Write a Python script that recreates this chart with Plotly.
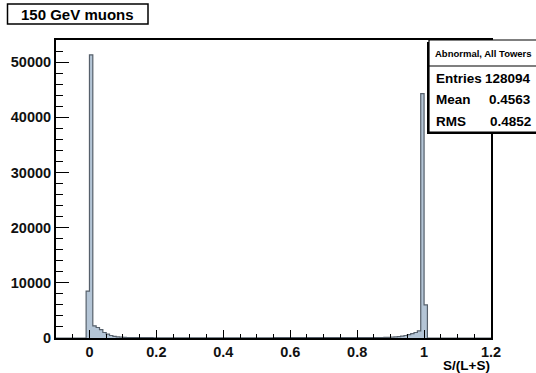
import plotly.graph_objects as go

# ---- data ----
bin_width = 0.01
x_low = -0.10
counts = [
    # -0.10 .. -0.01
    0, 0, 0, 0, 0, 0, 0, 0, 0, 8500,
    # 0.00 .. 0.09
    51300, 2200, 1900, 1500, 1000, 700, 450, 300, 200, 150,
    # 0.10 .. 0.19
    120, 90, 75, 65, 60, 55, 52, 50, 50, 48,
    # 0.20 .. 0.29
    48, 47, 47, 46, 46, 46, 45, 45, 45, 45,
    # 0.30 .. 0.39
    45, 45, 45, 45, 45, 46, 46, 46, 46, 46,
    # 0.40 .. 0.49
    46, 47, 47, 47, 47, 47, 48, 48, 48, 48,
    # 0.50 .. 0.59
    48, 49, 49, 49, 49, 50, 50, 50, 50, 51,
    # 0.60 .. 0.69
    51, 51, 52, 52, 52, 53, 53, 54, 54, 55,
    # 0.70 .. 0.79
    55, 56, 57, 58, 59, 60, 61, 62, 64, 66,
    # 0.80 .. 0.89
    68, 70, 72, 75, 78, 80, 85, 90, 100, 120,
    # 0.90 .. 0.99
    150, 190, 250, 330, 450, 600, 800, 1000, 1300, 44300,
    # 1.00 .. 1.09
    6000, 0, 0, 0, 0, 0, 0, 0, 0, 0,
    # 1.10 .. 1.19
    0, 0, 0, 0, 0, 0, 0, 0, 0, 0,
]
x_tickvals = [0, 0.2, 0.4, 0.6, 0.8, 1.0, 1.2]
x_ticktext = ["0", "0.2", "0.4", "0.6", "0.8", "1", "1.2"]
y_tickvals = [0, 10000, 20000, 30000, 40000, 50000]
y_ticktext = ["0", "10000", "20000", "30000", "40000", "50000"]

title_text = "150 GeV muons"
stats_title = "Abnormal, All Towers"
stats_rows = [("Entries", "128094"), ("Mean", "0.4563"), ("RMS", "0.4852")]
x_title = "S/(L+S)"

# ---- geometry ----
W, H = 536, 373
L, R, T, B = 56, 491, 40, 338

def px(xp):
    return (xp - L) / (R - L)

def py(yp):
    return (B - yp) / (B - T)

edges = [round(x_low + i * bin_width, 4) for i in range(len(counts) + 1)]
ys = counts + [counts[-1]]

FONT = "Liberation Sans"

fig = go.Figure()
fig.add_trace(go.Scatter(
    x=edges, y=ys, mode="lines", line_shape="hv",
    line=dict(color="#56606b", width=1.2),
    fill="tozeroy", fillcolor="#b4c5d6",
    hoverinfo="skip", showlegend=False,
))

axis_common = dict(
    showline=True, linecolor="black", linewidth=2, mirror=True,
    showgrid=False, zeroline=False, ticks="inside", tickcolor="black",
    tickwidth=1.3,
    tickfont=dict(family=FONT, size=14.5, color="#111111", weight="bold"),
)

fig.update_xaxes(
    range=[-0.1, 1.2], tickvals=x_tickvals, ticktext=x_ticktext,
    ticklen=8,
    minor=dict(dtick=0.05, tick0=0, ticklen=4, ticks="inside",
               tickcolor="black", tickwidth=1.1, showgrid=False),
    **axis_common,
)
fig.update_yaxes(
    range=[0, 54000], tickvals=y_tickvals, ticktext=y_ticktext,
    ticklen=13,
    minor=dict(dtick=2000, tick0=0, ticklen=7, ticks="inside",
               tickcolor="black", tickwidth=1.1, showgrid=False),
    **axis_common,
)

shapes = []
annotations = []

# title box
shapes.append(dict(type="rect", xref="paper", yref="paper",
                   x0=px(7.5), x1=px(148), y0=py(24), y1=py(4),
                   line=dict(color="black", width=1.5), fillcolor="white"))
annotations.append(dict(xref="paper", yref="paper", x=px(77.5), y=py(14),
                        text=title_text, showarrow=False,
                        xanchor="center", yanchor="middle",
                        font=dict(family=FONT, size=15, color="black", weight="bold")))

# stats box (shadow, box, separator)
shapes.append(dict(type="rect", xref="paper", yref="paper",
                   x0=px(427), x1=px(545), y0=py(134), y1=py(42),
                   line=dict(color="black", width=0), fillcolor="black"))
shapes.append(dict(type="rect", xref="paper", yref="paper",
                   x0=px(429), x1=px(545), y0=py(132), y1=py(40),
                   line=dict(color="black", width=1.2), fillcolor="white"))
shapes.append(dict(type="line", xref="paper", yref="paper",
                   x0=px(429), x1=px(545), y0=py(66), y1=py(66),
                   line=dict(color="black", width=1.2)))
annotations.append(dict(xref="paper", yref="paper", x=px(483), y=py(53.5),
                        text=stats_title, showarrow=False,
                        xanchor="center", yanchor="middle",
                        font=dict(family=FONT, size=9.5, color="black", weight="bold")))
row_y = [78, 99.5, 121]
for (lab, val), yy in zip(stats_rows, row_y):
    annotations.append(dict(xref="paper", yref="paper", x=px(434), y=py(yy),
                            text=lab, showarrow=False,
                            xanchor="left", yanchor="middle",
                            font=dict(family=FONT, size=13.5, color="black", weight="bold")))
    annotations.append(dict(xref="paper", yref="paper", x=px(533), y=py(yy),
                            text=val, showarrow=False,
                            xanchor="right", yanchor="middle",
                            font=dict(family=FONT, size=13.5, color="black", weight="bold")))

# x axis title
annotations.append(dict(xref="paper", yref="paper", x=px(492), y=py(365.5),
                        text=x_title, showarrow=False,
                        xanchor="right", yanchor="middle",
                        font=dict(family=FONT, size=13.5, color="black", weight="bold")))

fig.update_layout(
    width=W, height=H,
    margin=dict(l=L, r=W - R, t=T, b=H - B, pad=0),
    paper_bgcolor="white", plot_bgcolor="white",
    shapes=shapes, annotations=annotations,
    showlegend=False,
)

fig.write_html("out.html")
